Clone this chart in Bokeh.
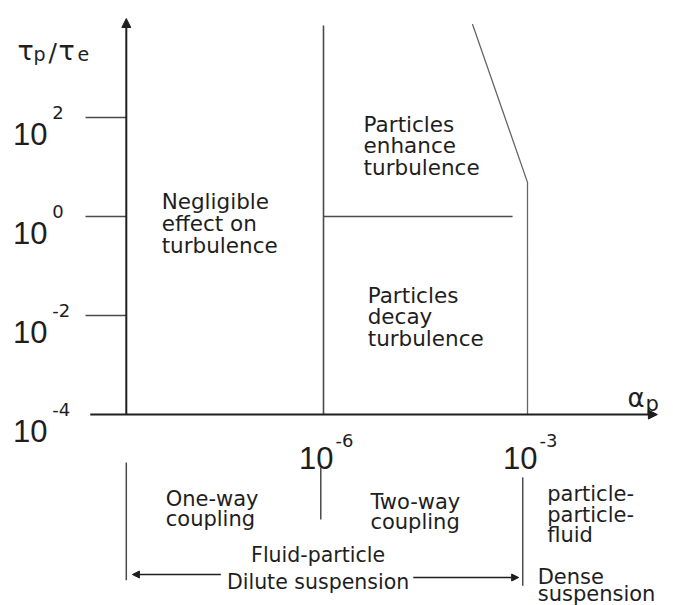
from bokeh.plotting import figure
from bokeh.models import Range1d, Arrow, NormalHead
from bokeh.core.properties import value
from bokeh.embed import file_html
from bokeh.resources import INLINE

# ---- data (log10 units) ----
tau_ticks = [2, 0, -2, -4]
tau_exps = ["2", "0", "-2", "-4"]
alpha_ticks = [-6, -3]
alpha_exps = ["-6", "-3"]
alpha_axis_x = -8.9          # where the tau axis sits
tau_axis_y = -4              # where the alpha axis sits
one_two_way = -6             # alpha boundary one-way / two-way
dilute_dense = -3            # alpha boundary dilute / dense
tau_split = 0                # tau_p/tau_e = 1
split_end = -3.22
dense_x = [-3, -3, -3.81]
dense_y = [-4, 0.69, 3.89]

region_text = ["Negligible", "effect on", "turbulence",
               "Particles", "enhance", "turbulence",
               "Particles", "decay", "turbulence"]
region_x = [-8.38, -8.38, -8.38, -5.41, -5.41, -5.41, -5.35, -5.35, -5.35]
region_y = [0.30, -0.14, -0.59, 1.86, 1.43, 0.99, -1.60, -2.02, -2.47]

bottom_text = ["One-way", "coupling", "Two-way", "coupling",
               "particle-", "particle-", "fluid", "Dense", "suspension"]
bottom_x = [-8.32, -8.32, -5.31, -5.31, -2.71, -2.71, -2.71, -2.85, -2.85]
bottom_y = [-5.70, -6.12, -5.76, -6.18, -5.60, -6.02, -6.44, -7.28, -7.62]

center_text = ["Fluid-particle", "Dilute suspension"]
center_x = [-6.08, -6.08]
center_y = [-6.83, -7.39]

W, H = 673, 605
PX_X, PX_Y = 68.0, 49.5     # pixels per decade
X0, Y1 = -10.75, 4.364
p = figure(width=W, height=H, x_range=Range1d(X0, X0 + W / PX_X),
           y_range=Range1d(Y1 - H / PX_Y, Y1), x_axis_type=None, y_axis_type=None,
           toolbar_location=None, output_backend="svg", min_border=0,
           outline_line_color=None, background_fill_color="white")

AX = "#1e1e1e"
LN = "#4a4a4a"
TX = "#1e1e1e"
FONT = value("DejaVu Sans")

# axes with arrow heads
p.add_layout(Arrow(end=NormalHead(size=9, fill_color=AX, line_color=AX),
                   x_start=alpha_axis_x, y_start=tau_axis_y,
                   x_end=alpha_axis_x, y_end=4.0, line_width=2, line_color=AX))
p.add_layout(Arrow(end=NormalHead(size=9, fill_color=AX, line_color=AX),
                   x_start=-9.43, y_start=tau_axis_y,
                   x_end=-1.09, y_end=tau_axis_y, line_width=2.2, line_color=AX))

# y tick marks
p.segment(x0=[-9.5] * 3, y0=tau_ticks[:3], x1=[alpha_axis_x] * 3, y1=tau_ticks[:3],
          line_color=LN, line_width=1.6)

# regime boundaries
p.segment(x0=[one_two_way], y0=[tau_axis_y], x1=[one_two_way], y1=[3.86],
          line_color=LN, line_width=1.6)
p.segment(x0=[one_two_way], y0=[tau_split], x1=[split_end], y1=[tau_split],
          line_color=LN, line_width=1.6)
p.line(dense_x, dense_y, line_color="#666666", line_width=1.3)

# bottom separators
p.segment(x0=[alpha_axis_x, -6.04, -3.07], y0=[-4.97, -5.07, -5.27],
          x1=[alpha_axis_x, -6.04, -3.07], y1=[-7.35, -6.12, -7.46],
          line_color=LN, line_width=1.5)

# dilute suspension arrows
for xs, xe, yy in [(-7.51, -8.81, -7.232), (-4.68, -3.13, -7.293)]:
    p.add_layout(Arrow(end=NormalHead(size=7, fill_color=AX, line_color=AX),
                       x_start=xs, y_start=yy, x_end=xe, y_end=yy,
                       line_width=1.4, line_color=AX))

# tick labels
p.text(x=[-10.06] * 4, y=tau_ticks, text=["10"] * 4, text_font=value("Liberation Sans"),
       text_font_size="31px", text_align="right", text_baseline="alphabetic",
       y_offset=16, text_color=TX)
p.text(x=[-9.99] * 4, y=tau_ticks, text=tau_exps, text_font=FONT,
       text_font_size="18px", text_align="left", text_baseline="alphabetic",
       y_offset=-5, text_color=TX)
p.text(x=alpha_ticks, y=[tau_axis_y] * 2, text=["10"] * 2, text_font=value("Liberation Sans"),
       text_font_size="31px", text_align="right", text_baseline="alphabetic",
       x_offset=10, y_offset=43, text_color=TX)
p.text(x=alpha_ticks, y=[tau_axis_y] * 2, text=alpha_exps, text_font=FONT,
       text_font_size="18px", text_align="left", text_baseline="alphabetic",
       x_offset=12, y_offset=26, text_color=TX)

# axis titles: tau_p / tau_e and alpha_p
title_parts = ["τ", "p", "/", "τ", "e"]
title_dx = [0, 16, 31, 41, 60]
title_dy = [0, 4, 2, 0, 4]
title_fs = ["27px", "19px", "25px", "27px", "19px"]
p.text(x=[-10.5] * 5, y=[3.354] * 5, text=title_parts, x_offset=title_dx,
       y_offset=title_dy, text_font_size=title_fs, text_font=FONT,
       text_align="left", text_baseline="alphabetic", text_color=TX)
p.text(x=[-1.53] * 2, y=[-3.657] * 2, text=["α", "p"], x_offset=[0, 18],
       y_offset=[0, 6], text_font_size=["26px", "21px"], text_font=FONT,
       text_align="left", text_baseline="alphabetic", text_color=TX)

# region labels
p.text(x=region_x, y=region_y, text=region_text, text_font=FONT, text_font_size="21.5px",
       text_align="left", text_baseline="alphabetic", text_color=TX)
p.text(x=bottom_x, y=bottom_y, text=bottom_text, text_font=FONT, text_font_size="21px",
       text_align="left", text_baseline="alphabetic", text_color=TX)
p.text(x=center_x, y=center_y, text=center_text, text_font=FONT, text_font_size="20.5px",
       text_align="center", text_baseline="alphabetic", text_color=TX)

open("out.html", "w").write(file_html(p, INLINE))
